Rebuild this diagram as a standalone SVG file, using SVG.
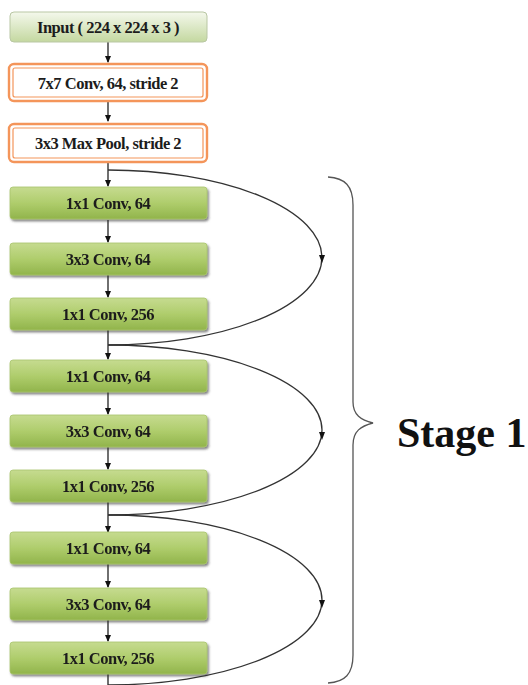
<svg xmlns="http://www.w3.org/2000/svg" width="528" height="685" viewBox="0 0 528 685">
<style>
.lbl{font-family:"Liberation Serif","Times New Roman",serif;font-weight:bold;font-size:16.5px;letter-spacing:-0.5px;fill:#1c1c1c;text-anchor:middle}
.g{fill:url(#gg);stroke:#a8c46c;stroke-width:0.8}
.ln{fill:none;stroke:#222;stroke-width:1.3}
.cv{fill:none;stroke:#333;stroke-width:1.3}
.oo{fill:#fff;stroke:#f4955a;stroke-width:2.4}
.oi{fill:none;stroke:#f4955a;stroke-width:1.2}
.ah{fill:#111}
</style>
<defs>
<linearGradient id="gg" x1="0" y1="0" x2="0" y2="1">
<stop offset="0" stop-color="#c6db90"/>
<stop offset="0.5" stop-color="#afcd6c"/>
<stop offset="1" stop-color="#91b44b"/>
</linearGradient>
<linearGradient id="gi" x1="0" y1="0" x2="0" y2="1">
<stop offset="0" stop-color="#f4f8ec"/>
<stop offset="1" stop-color="#c4d8a0"/>
</linearGradient>
<filter id="sh" x="-5%" y="-20%" width="115%" height="150%">
<feDropShadow dx="1.5" dy="2" stdDeviation="1" flood-color="#333" flood-opacity="0.6"/>
</filter>
</defs>
<g id="connectors">
<path class="ln" d="M108,42 V62"/>
<path class="ah" d="M105,56 L111,56 L108,63 Z"/>
<path class="ln" d="M108,102 V121"/>
<path class="ah" d="M105,115 L111,115 L108,122 Z"/>
<path class="ln" d="M108,163 V186"/>
<path class="ah" d="M105,180 L111,180 L108,187 Z"/>
<path class="ln" d="M108,220 V242"/>
<path class="ah" d="M105,236 L111,236 L108,243 Z"/>
<path class="ln" d="M108,275 V297"/>
<path class="ah" d="M105,291 L111,291 L108,298 Z"/>
<path class="ln" d="M108,330 V359"/>
<path class="ah" d="M105,353 L111,353 L108,360 Z"/>
<path class="ln" d="M108,392 V414"/>
<path class="ah" d="M105,408 L111,408 L108,415 Z"/>
<path class="ln" d="M108,447 V469"/>
<path class="ah" d="M105,463 L111,463 L108,470 Z"/>
<path class="ln" d="M108,502 V532"/>
<path class="ah" d="M105,526 L111,526 L108,533 Z"/>
<path class="ln" d="M108,563 V587"/>
<path class="ah" d="M105,581 L111,581 L108,588 Z"/>
<path class="ln" d="M108,620 V641"/>
<path class="ah" d="M105,635 L111,635 L108,642 Z"/>
<path class="ln" d="M108,673 V685"/>
<path class="cv" d="M108,170 A214,87.5 0 0 1 108,345"/>
<path class="ah" d="M319,255 L325,255 L322,263 Z"/>
<path class="cv" d="M108,345 A214,85 0 0 1 108,515"/>
<path class="ah" d="M319,432 L325,432 L322,440 Z"/>
<path class="cv" d="M108,515 A214,85 0 0 1 108,685"/>
<path class="ah" d="M319,600 L325,600 L322,608 Z"/>
</g>
<g id="n-input">
<rect x="10" y="12" width="197" height="30" rx="4" fill="url(#gi)" stroke="#b9c7a4" stroke-width="1"/>
<text class="lbl" x="108" y="32.5">Input ( 224 x 224 x 3 )</text>
</g>
<g id="n-conv7">
<rect class="oo" x="9" y="64" width="198" height="37" rx="5"/>
<rect class="oi" x="13" y="68" width="190" height="29" rx="2"/>
<text class="lbl" x="108" y="88.5">7x7 Conv, 64, stride 2</text>
</g>
<g id="n-pool">
<rect class="oo" x="9" y="124" width="198" height="38" rx="5"/>
<rect class="oi" x="13" y="128" width="190" height="30" rx="2"/>
<text class="lbl" x="108" y="148.5">3x3 Max Pool, stride 2</text>
</g>
<g id="n-b1c1" filter="url(#sh)"><rect class="g" x="10" y="187" width="197" height="32" rx="3"/><text class="lbl" x="108" y="208.5">1x1 Conv, 64</text></g>
<g id="n-b1c2" filter="url(#sh)"><rect class="g" x="10" y="243" width="197" height="32" rx="3"/><text class="lbl" x="108" y="264.5">3x3 Conv, 64</text></g>
<g id="n-b1c3" filter="url(#sh)"><rect class="g" x="10" y="298" width="197" height="32" rx="3"/><text class="lbl" x="108" y="319.5">1x1 Conv, 256</text></g>
<g id="n-b2c1" filter="url(#sh)"><rect class="g" x="10" y="360" width="197" height="32" rx="3"/><text class="lbl" x="108" y="381.5">1x1 Conv, 64</text></g>
<g id="n-b2c2" filter="url(#sh)"><rect class="g" x="10" y="415" width="197" height="32" rx="3"/><text class="lbl" x="108" y="436.5">3x3 Conv, 64</text></g>
<g id="n-b2c3" filter="url(#sh)"><rect class="g" x="10" y="470" width="197" height="32" rx="3"/><text class="lbl" x="108" y="491.5">1x1 Conv, 256</text></g>
<g id="n-b3c1" filter="url(#sh)"><rect class="g" x="10" y="532" width="197" height="32" rx="3"/><text class="lbl" x="108" y="553.5">1x1 Conv, 64</text></g>
<g id="n-b3c2" filter="url(#sh)"><rect class="g" x="10" y="588" width="197" height="32" rx="3"/><text class="lbl" x="108" y="609.5">3x3 Conv, 64</text></g>
<g id="n-b3c3" filter="url(#sh)"><rect class="g" x="10" y="642" width="197" height="32" rx="3"/><text class="lbl" x="108" y="663.5">1x1 Conv, 256</text></g>
<g id="n-stage">
<path d="M328,177 C345,178 353,186 353,205 L353,402 C353,415 361,420 373,423 C361,426 353,431 353,445 L353,655 C353,674 345,682 328,683" fill="none" stroke="#555" stroke-width="1.3"/>
<text x="397" y="447" font-family="'Liberation Serif','Times New Roman',serif" font-weight="bold" font-size="42" fill="#111">Stage 1</text>
</g>
</svg>
